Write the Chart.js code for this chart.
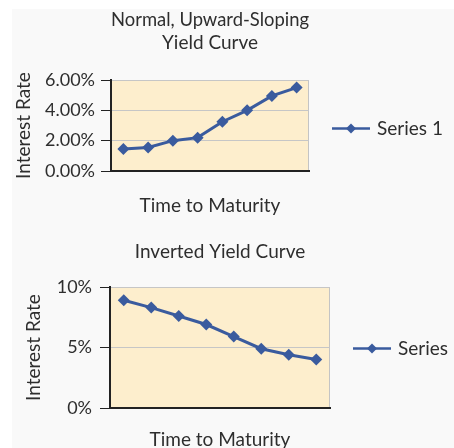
<!DOCTYPE html>
<html>
<head>
<meta charset="utf-8">
<script src="https://cdn.jsdelivr.net/npm/chart.js@4.4.1/dist/chart.umd.min.js"></script>
<style>
  html, body { margin: 0; padding: 0; background: #fff; overflow: hidden; }
  #page { position: relative; width: 454px; height: 448px; overflow: hidden; }
  #panel { position: absolute; left: 12px; top: 9px; right: 0; bottom: 0; background: #f9f9f9; }
  canvas { position: absolute; left: 0; }
  #topChart { top: 0; }
  #bottomChart { top: 225px; }
</style>
</head>
<body>
<div id="page">
  <div id="panel"></div>
  <canvas id="topChart" width="454" height="225"></canvas>
  <canvas id="bottomChart" width="454" height="240"></canvas>
</div>
<script>
// maturities (no labels shown on the axis)
const maturities = ['1', '2', '3', '4', '5', '6', '7', '8'];

// upward sloping curve, percent
const normalRates = [1.45, 1.55, 2.0, 2.2, 3.25, 4.0, 4.95, 5.5];
const normalTicks = [0, 2, 4, 6];
const normalTickLabels = ['0.00%', '2.00%', '4.00%', '6.00%'];

// inverted curve, percent
const invertedRates = [8.9, 8.3, 7.6, 6.9, 5.9, 4.9, 4.4, 4.0];
const invertedTicks = [0, 5, 10];
const invertedTickLabels = ['0%', '5%', '10%'];

const lineBlue = '#3a5b9e';
const plotFill = '#fdeecd';
const textColor = '#2e2e2e';

Chart.defaults.font.family = 'Lato, "Open Sans", sans-serif';
Chart.defaults.color = textColor;

// fills the plot area and draws the thin grey frame
const plotBackground = {
    id: 'plotBackground',
    beforeDraw(chart) {
        const {ctx, chartArea: a} = chart;
        ctx.save();
        ctx.fillStyle = plotFill;
        ctx.fillRect(a.left, a.top, a.right - a.left, a.bottom - a.top);
        ctx.strokeStyle = '#c4c4c4';
        ctx.lineWidth = 1;
        ctx.strokeRect(a.left + 0.5, a.top + 0.5, a.right - a.left - 1, a.bottom - a.top - 1);
        ctx.restore();
    }
};

// legend like excel: short line with a diamond, then the series name
const lineLegend = {
    id: 'lineLegend',
    afterDraw(chart, args, opts) {
        const {ctx, chartArea: a} = chart;
        const ds = chart.data.datasets[0];
        const x = a.right + opts.dx;
        const y = (a.top + a.bottom) / 2 + opts.dy;
        ctx.save();
        ctx.strokeStyle = ds.borderColor;
        ctx.lineWidth = 2.5;
        ctx.beginPath();
        ctx.moveTo(x, y);
        ctx.lineTo(x + 38, y);
        ctx.stroke();
        ctx.fillStyle = ds.borderColor;
        ctx.beginPath();
        ctx.moveTo(x + 19, y - 5);
        ctx.lineTo(x + 24, y);
        ctx.lineTo(x + 19, y + 5);
        ctx.lineTo(x + 14, y);
        ctx.closePath();
        ctx.fill();
        ctx.fillStyle = textColor;
        ctx.font = '19px Lato, "Open Sans", sans-serif';
        ctx.textBaseline = 'middle';
        ctx.fillText(ds.label, x + 45, y);
        ctx.restore();
    }
};

function makeChart(id, cfg) {
    return new Chart(document.getElementById(id), {
        type: 'line',
        data: {
            labels: maturities,
            datasets: [{
                label: cfg.label,
                data: cfg.values,
                borderColor: lineBlue,
                backgroundColor: lineBlue,
                borderWidth: 3,
                pointStyle: 'rectRot',
                pointRadius: 6,
                pointBackgroundColor: lineBlue,
                pointBorderWidth: 0,
                tension: 0
            }]
        },
        options: {
            responsive: false,
            animation: false,
            layout: { padding: { left: 0, top: 0, right: cfg.padRight, bottom: 0 } },
            plugins: {
                legend: { display: false },
                tooltip: { enabled: false },
                title: {
                    display: true,
                    fullSize: false,
                    text: cfg.title,
                    color: textColor,
                    font: { size: 19, weight: 'normal', lineHeight: 1.2 },
                    padding: cfg.titlePad
                },
                lineLegend: cfg.legend
            },
            scales: {
                x: {
                    offset: true,
                    grid: { drawOnChartArea: false, drawTicks: false },
                    border: { color: '#222', width: 2 },
                    ticks: { display: false },
                    title: {
                        display: true,
                        text: 'Time to Maturity',
                        color: textColor,
                        font: { size: 19, lineHeight: 1.2 },
                        padding: { top: 0, bottom: cfg.xTitleBottom }
                    },
                    afterFit(scale) { scale.height = cfg.xHeight; }
                },
                y: {
                    min: cfg.ticks[0],
                    max: cfg.ticks[cfg.ticks.length - 1],
                    afterBuildTicks(scale) {
                        scale.ticks = cfg.ticks.map(v => ({ value: v }));
                    },
                    grid: { color: '#c6c6c6', lineWidth: 1, tickLength: 10, tickColor: '#222' },
                    border: { color: '#222', width: 2 },
                    ticks: {
                        padding: cfg.tickPad,
                        color: textColor,
                        font: { size: 18 },
                        callback: (v, i) => cfg.tickLabels[i]
                    },
                    title: {
                        display: true,
                        text: 'Interest Rate',
                        color: textColor,
                        font: { size: 19, lineHeight: 1.2 },
                        padding: { top: cfg.yTitleTop, bottom: 0 }
                    },
                    afterFit(scale) { scale.width = cfg.yWidth; }
                }
            }
        },
        plugins: [plotBackground, lineLegend]
    });
}

makeChart('topChart', {
    label: 'Series 1',
    values: normalRates,
    ticks: normalTicks,
    tickLabels: normalTickLabels,
    title: ['Normal, Upward-Sloping', 'Yield Curve'],
    titlePad: { top: 8.6, bottom: 25.8 },
    padRight: 145,
    yWidth: 111,
    yTitleTop: 12.6,
    tickPad: 6,
    xHeight: 54,
    xTitleBottom: 7.6,
    legend: { dx: 23, dy: 3 }
});

makeChart('bottomChart', {
    label: 'Series 1',
    values: invertedRates,
    ticks: invertedTicks,
    tickLabels: invertedTickLabels,
    title: 'Inverted Yield Curve',
    titlePad: { top: 15.6, bottom: 23.6 },
    padRight: 124,
    yWidth: 110,
    yTitleTop: 22.6,
    tickPad: 8,
    xHeight: 57,
    xTitleBottom: 13.6,
    legend: { dx: 23, dy: 1 }
});
</script>
</body>
</html>
